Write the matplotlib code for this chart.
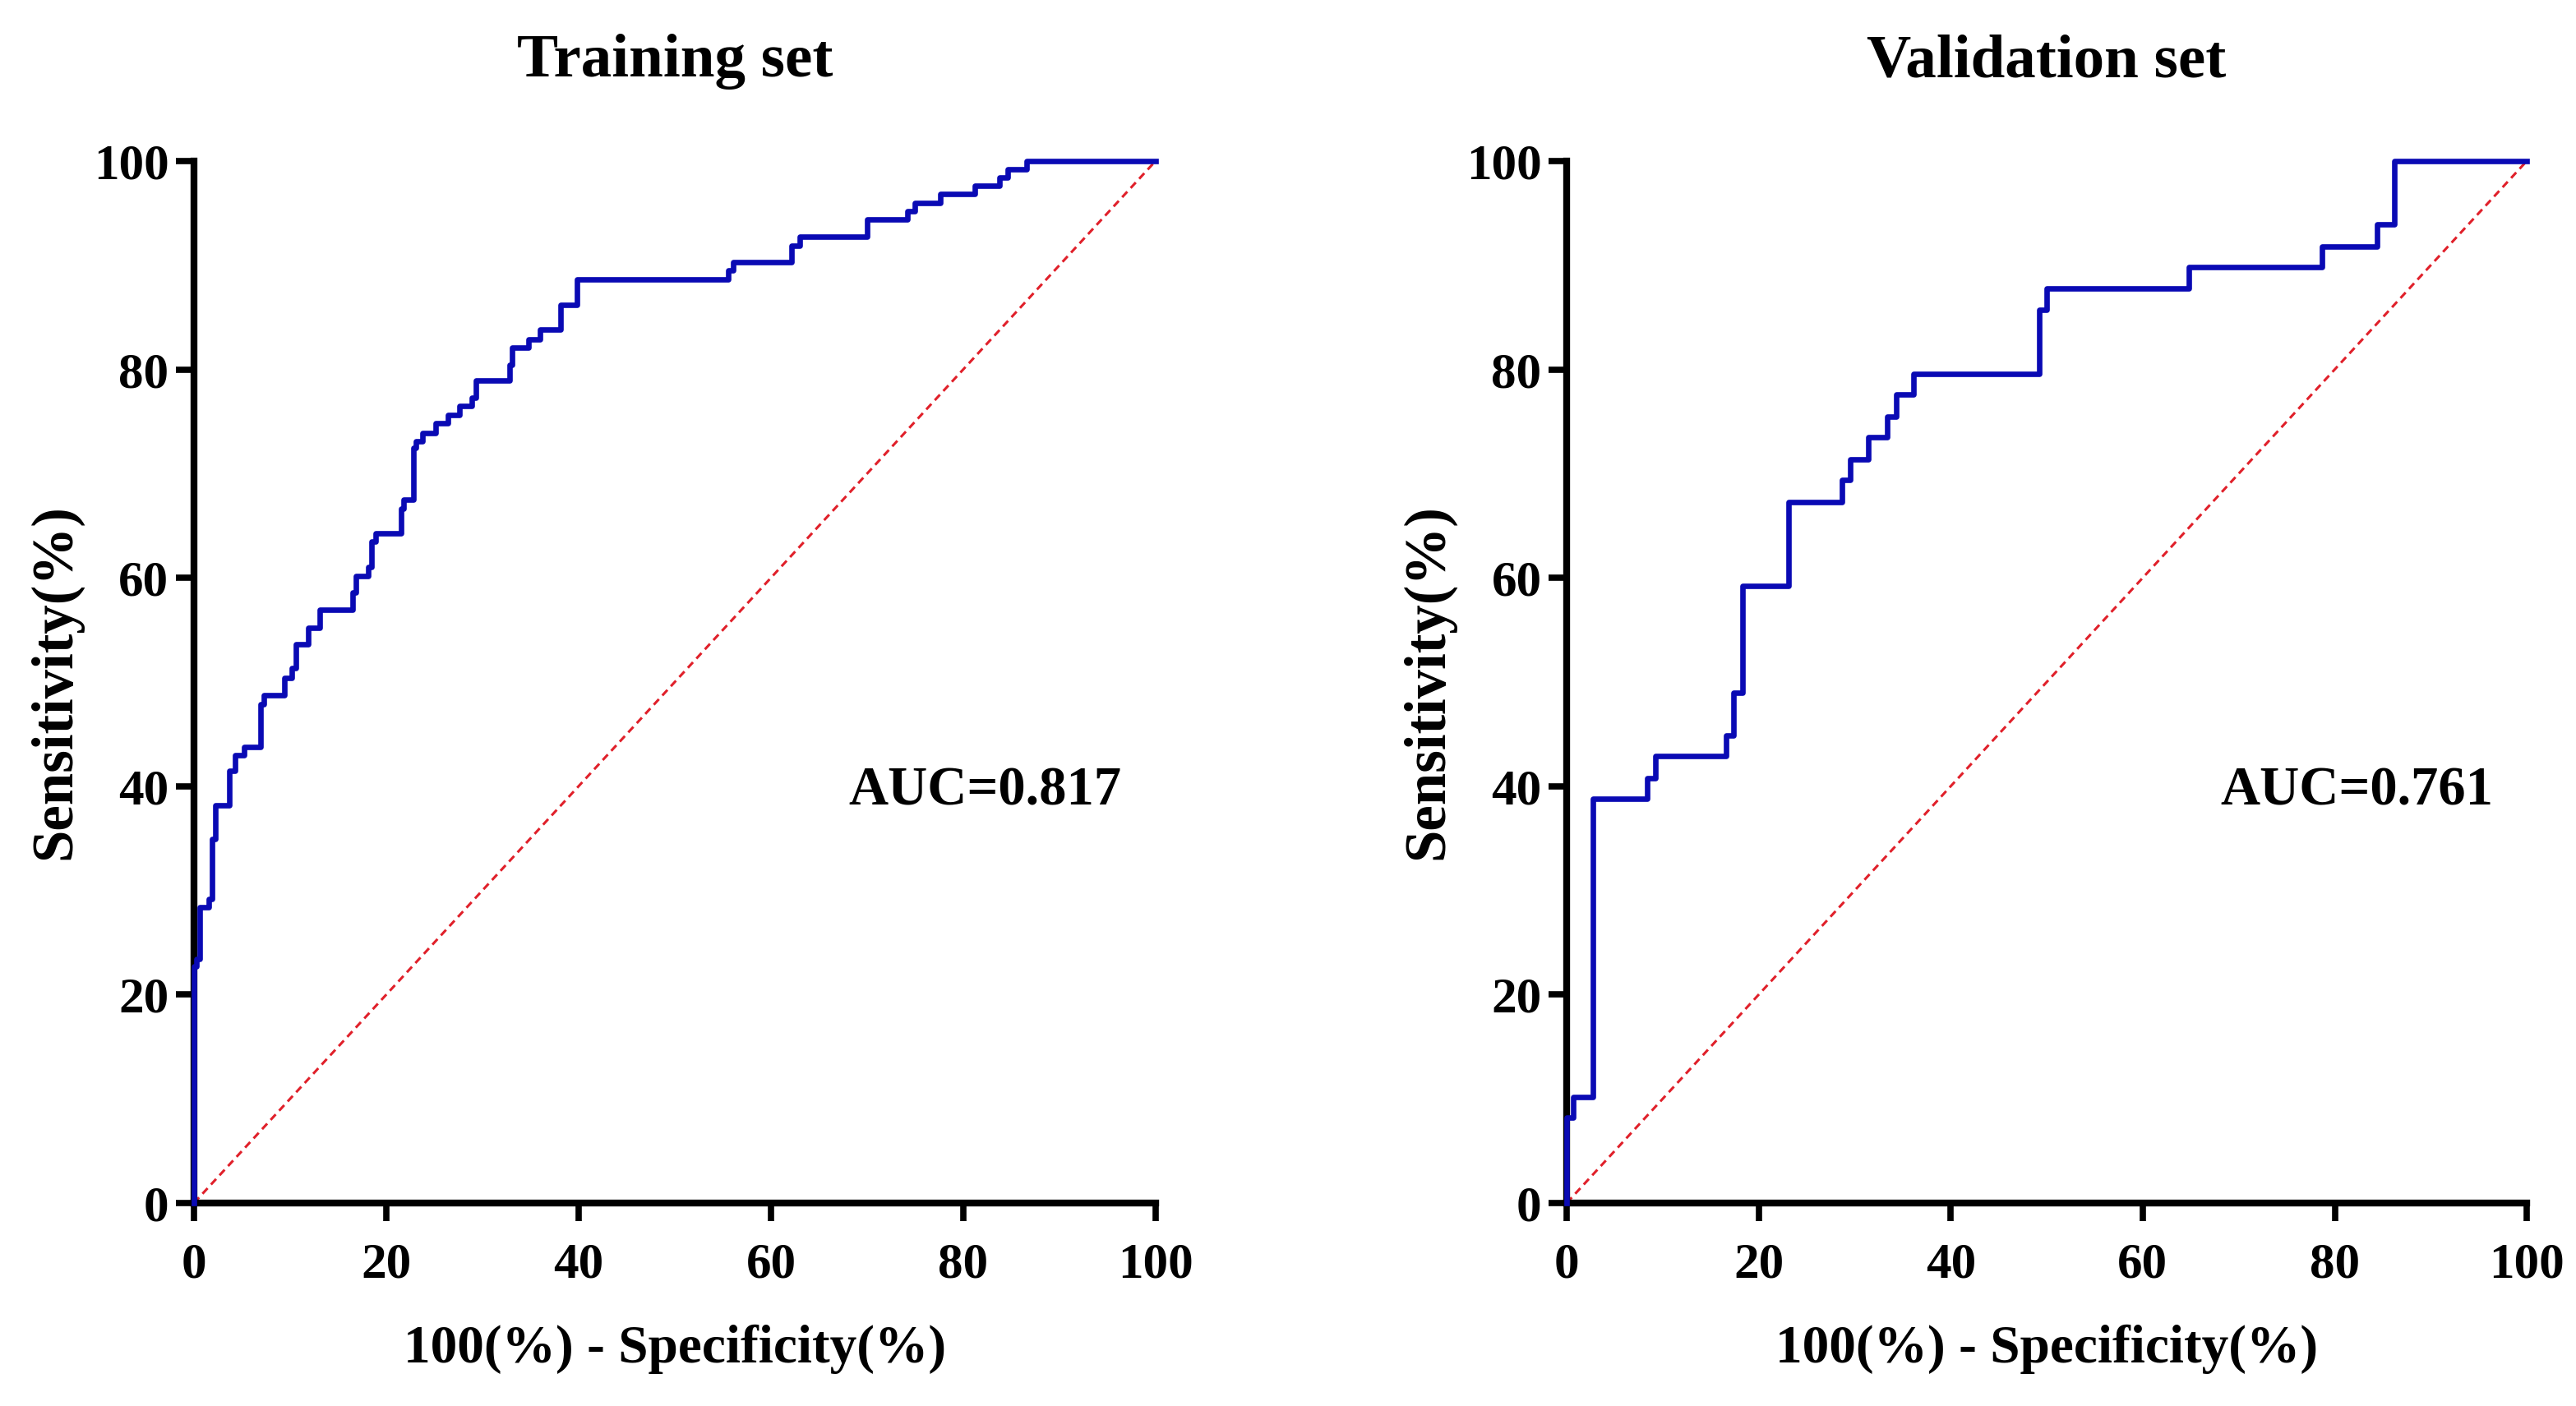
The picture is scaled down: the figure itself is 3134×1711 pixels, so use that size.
import matplotlib
matplotlib.use("Agg")
import matplotlib.pyplot as plt

plt.rcParams['font.family'] = ['Liberation Serif', 'DejaVu Serif']
plt.rcParams['font.weight'] = 'bold'

# ROC step points (100 - specificity, sensitivity)
train_fpr = [0, 0, 0.3, 0.6, 1.5, 1.9, 2.2, 3.7, 4.3, 5.2, 6.9, 7.3, 9.4, 10.2, 10.6,
             11.9, 13.1, 16.5, 16.8, 18.1, 18.5, 18.9, 21.5, 21.8, 22.8, 23.1, 23.8,
             25.1, 26.4, 27.6, 28.9, 29.3, 32.8, 33.1, 34.8, 36.0, 38.1, 39.8, 55.6,
             56.1, 62.1, 63.0, 70.0, 74.2, 75.0, 77.6, 81.2, 83.8, 84.6, 86.6, 100]
train_tpr = [0, 22.7, 23.4, 28.4, 29.2, 34.9, 38.2, 41.5, 43.0, 43.8, 47.9, 48.7, 50.4,
             51.3, 53.6, 55.2, 56.9, 58.6, 60.2, 61.0, 63.5, 64.3, 66.6, 67.5, 72.5,
             73.1, 73.9, 74.8, 75.6, 76.5, 77.3, 78.9, 80.4, 82.1, 82.9, 83.8, 86.2,
             88.6, 89.5, 90.3, 91.9, 92.7, 94.4, 95.2, 96.0, 96.8, 97.6, 98.4, 99.2,
             100, 100]

valid_fpr = [0, 0, 0.7, 2.7, 8.35, 9.2, 16.6, 17.4, 18.3, 23.1, 28.7, 29.5, 31.4,
             33.4, 34.3, 36.1, 49.2, 50.0, 64.8, 78.7, 84.4, 86.2, 100]
valid_tpr = [0, 8.2, 10.2, 38.8, 40.8, 42.9, 44.9, 49.0, 59.2, 67.3, 69.4, 71.4, 73.5,
             75.5, 77.6, 79.6, 85.7, 87.8, 89.8, 91.8, 93.9, 100, 100]

titles = ['Training set', 'Validation set']
auc_labels = ['AUC=0.817', 'AUC=0.761']
ticks = [0, 20, 40, 60, 80, 100]

fig = plt.figure(figsize=(31.34, 17.11), dpi=100)
ax1 = fig.add_axes([0.0753, 0.1444, 0.3733, 0.7411])
ax2 = fig.add_axes([0.6082, 0.1444, 0.3727, 0.7411])

panels = [(ax1, train_fpr, train_tpr), (ax2, valid_fpr, valid_tpr)]
for i, (ax, fpr, tpr) in enumerate(panels):
    # 参考线
    ax.plot([0, 100], [0, 100], color='#e0202a', linestyle=(0, (3, 2)),
            linewidth=2.2, zorder=2)
    # ROC 曲线
    ax.plot(fpr, tpr, drawstyle='steps-post', color='#0a0ab4', linewidth=4.8,
            clip_on=False, zorder=4)

    ax.set_xlim(0, 100)
    ax.set_ylim(0, 100)
    ax.set_xticks(ticks)
    ax.set_yticks(ticks)
    ax.tick_params(axis='both', labelsize=44, width=5.5, length=16)
    ax.tick_params(axis='x', pad=18)
    ax.tick_params(axis='y', pad=6)
    for lab in ax.get_xticklabels() + ax.get_yticklabels():
        lab.set_fontweight('bold')

    for side in ['top', 'right']:
        ax.spines[side].set_visible(False)
    for side in ['left', 'bottom']:
        ax.spines[side].set_linewidth(6)

    ax.set_title(titles[i], fontsize=54, fontweight='bold', pad=74)
    ax.set_xlabel('100(%) - Specificity(%)', fontsize=47, fontweight='bold', labelpad=32)
    ax.set_ylabel('Sensitivity(%)', fontsize=51, fontweight='bold', labelpad=10)

    ax.text(96.5, 39.5, auc_labels[i], fontsize=48, fontweight='bold',
            ha='right', va='center')

fig.savefig('out.png', dpi=100, facecolor='white')
